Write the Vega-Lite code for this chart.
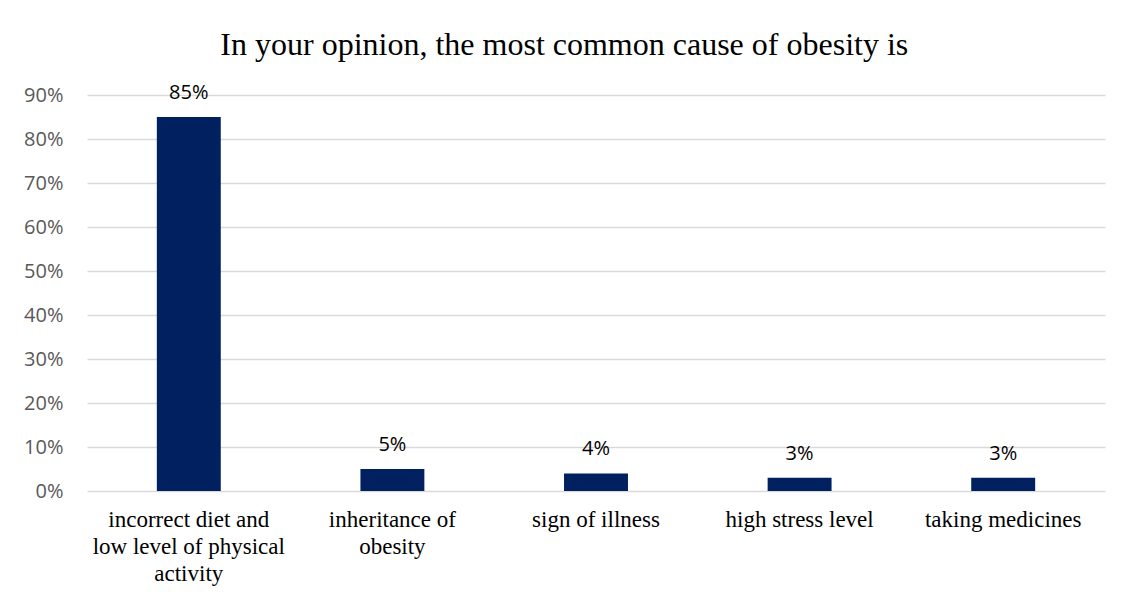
{
  "$schema": "https://vega.github.io/schema/vega-lite/v6.json",
  "autosize": {"type": "none"},
  "width": 1018,
  "height": 396,
  "padding": {"left": 87, "top": 95, "right": 24, "bottom": 110},
  "background": "white",
  "title": {
    "text": "In your opinion, the most common cause of obesity is",
    "font": "Liberation Serif",
    "fontSize": 32,
    "fontWeight": "normal",
    "color": "#000000",
    "anchor": "middle",
    "frame": "bounds",
    "offset": 21
  },
  "data": {
    "values": [
      {"cause": "incorrect diet and low level of physical activity", "share": 0.85},
      {"cause": "inheritance of obesity", "share": 0.05},
      {"cause": "sign of illness", "share": 0.04},
      {"cause": "high stress level", "share": 0.03},
      {"cause": "taking medicines", "share": 0.03}
    ]
  },
  "encoding": {
    "x": {
      "field": "cause",
      "type": "nominal",
      "sort": null,
      "scale": {"paddingInner": 0.686, "paddingOuter": 0.343},
      "axis": {
        "title": null,
        "labelAngle": 0,
        "labelFont": "Liberation Serif",
        "labelFontSize": 23,
        "labelColor": "#000000",
        "labelPadding": 17,
        "labelLineHeight": 27,
        "labelLimit": 300,
        "ticks": false,
        "domain": false,
        "grid": false,
        "labelExpr": "datum.label == 'incorrect diet and low level of physical activity' ? ['incorrect diet and', 'low level of physical', 'activity'] : datum.label == 'inheritance of obesity' ? ['inheritance of', 'obesity'] : datum.label"
      }
    },
    "y": {
      "field": "share",
      "type": "quantitative",
      "scale": {"domain": [0, 0.9], "nice": false},
      "axis": {
        "title": null,
        "format": ".0%",
        "values": [0, 0.1, 0.2, 0.3, 0.4, 0.5, 0.6, 0.7, 0.8, 0.9],
        "labelFont": "Open Sans",
        "labelFontSize": 20,
        "labelColor": "#595959",
        "labelPadding": 24,
        "ticks": false,
        "domain": false,
        "grid": true,
        "gridColor": "#d9d9d9",
        "gridWidth": 1.3
      }
    }
  },
  "layer": [
    {"mark": {"type": "bar", "color": "#002060"}},
    {
      "mark": {
        "type": "text",
        "baseline": "alphabetic",
        "dy": -18,
        "font": "Open Sans",
        "fontSize": 20,
        "color": "#000000"
      },
      "encoding": {"text": {"field": "share", "type": "quantitative", "format": ".0%"}}
    }
  ],
  "config": {"view": {"stroke": null}}
}
